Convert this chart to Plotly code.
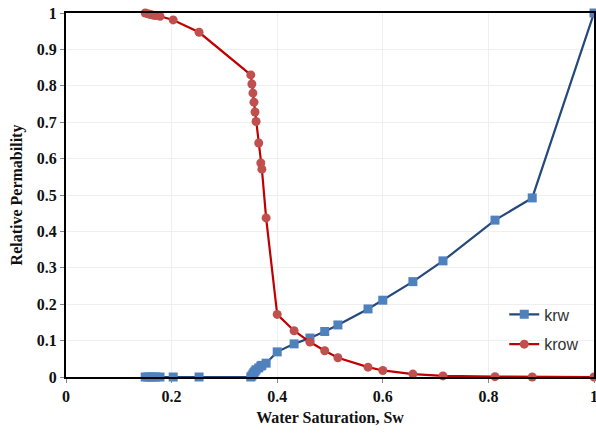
import plotly.graph_objects as go

sw = [0.150, 0.155, 0.160, 0.165, 0.170, 0.178, 0.203, 0.252, 0.350, 0.352,
      0.354, 0.356, 0.358, 0.360, 0.365, 0.369, 0.371, 0.379, 0.400, 0.432,
      0.462, 0.490, 0.515, 0.572, 0.600, 0.657, 0.714, 0.8125, 0.883, 1.0]
krw = [0, 0, 0, 0, 0, 0, 0, 0, 0.0, 0.003,
       0.008, 0.012, 0.016, 0.020, 0.025, 0.030, 0.032, 0.038, 0.069, 0.091,
       0.107, 0.125, 0.143, 0.187, 0.211, 0.262, 0.319, 0.431, 0.492, 1.0]
krow = [1.0, 0.998, 0.996, 0.994, 0.993, 0.991, 0.981, 0.947, 0.830, 0.805,
        0.780, 0.755, 0.728, 0.702, 0.643, 0.588, 0.571, 0.437, 0.172, 0.127,
        0.096, 0.072, 0.053, 0.027, 0.018, 0.008, 0.003, 0.001, 0.0, 0.0]

x_ticks = [0, 0.2, 0.4, 0.6, 0.8, 1]
x_tick_text = ["0", "0.2", "0.4", "0.6", "0.8", "1"]
y_ticks = [0, 0.1, 0.2, 0.3, 0.4, 0.5, 0.6, 0.7, 0.8, 0.9, 1]
y_tick_text = ["0", "0.1", "0.2", "0.3", "0.4", "0.5", "0.6", "0.7", "0.8", "0.9", "1"]

fig = go.Figure()
fig.add_trace(go.Scatter(
    x=sw, y=krw, name="krw", mode="lines+markers",
    line=dict(color="#24497A", width=2.2),
    marker=dict(symbol="square", size=9, color="#4F81BD"),
    cliponaxis=False, legend="legend"))
fig.add_trace(go.Scatter(
    x=sw, y=krow, name="krow", mode="lines+markers",
    line=dict(color="#C00000", width=2.2),
    marker=dict(symbol="circle", size=9, color="#C0504D"),
    cliponaxis=False, legend="legend2"))

tick_font = dict(family="Liberation Serif", size=16, color="#111111", weight="bold")
title_font = dict(family="Liberation Serif", size=16, color="#111111", weight="bold")
legend_font = dict(family="Liberation Sans", size=16, color="#333333")

fig.update_layout(
    width=596, height=435,
    margin=dict(l=66, r=2, t=13, b=58),
    paper_bgcolor="white", plot_bgcolor="white",
    showlegend=True,
    legend=dict(x=0.83, y=0.172, xanchor="left", yanchor="middle",
                bgcolor="rgba(0,0,0,0)", font=legend_font),
    legend2=dict(x=0.83, y=0.09, xanchor="left", yanchor="middle",
                 bgcolor="rgba(0,0,0,0)", font=legend_font),
    xaxis=dict(range=[0, 1], tickvals=x_ticks, ticktext=x_tick_text,
               tickfont=tick_font, automargin=False, ticklabeloverflow="allow",
               showgrid=True, gridcolor="#EFEFEF", gridwidth=1,
               showline=True, linecolor="black", linewidth=2, mirror=True,
               ticks="outside", ticklen=4, tickcolor="#888888",
               zeroline=False,
               title=dict(text="Water Saturation, Sw", font=title_font, standoff=8)),
    yaxis=dict(range=[0, 1], tickvals=y_ticks, ticktext=y_tick_text,
               tickfont=tick_font, automargin=False, ticklabeloverflow="allow",
               showgrid=True, gridcolor="#EFEFEF", gridwidth=1,
               showline=True, linecolor="black", linewidth=2, mirror=True,
               ticks="outside", ticklen=4, tickcolor="#888888",
               zeroline=False,
               title=dict(text="Relative Permability", font=title_font, standoff=10)),
)

fig.write_html("out.html", config={"displayModeBar": False},
               post_script="document.body.style.margin='0';document.body.style.overflow='hidden';")
